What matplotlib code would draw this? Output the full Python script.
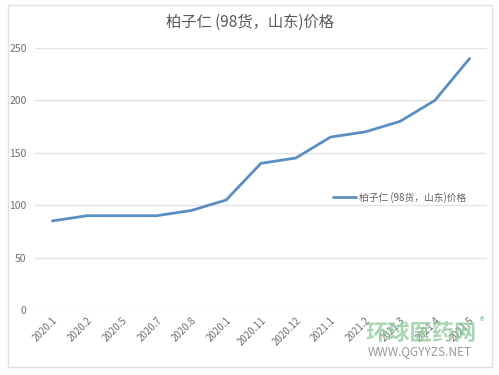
import matplotlib
matplotlib.use("Agg")
import matplotlib.pyplot as plt
from matplotlib.patches import Rectangle

plt.rcParams['font.family'] = ['Noto Sans CJK SC', 'DejaVu Sans']

categories = ["2020.1", "2020.2", "2020.5", "2020.7", "2020.8", "2020.1", "2020.11",
              "2020.12", "2021.1", "2021.2", "2021.3", "2021.4", "2021.5"]
prices = [85, 90, 90, 90, 95, 105, 140, 145, 165, 170, 180, 200, 240]
series_name = "柏子仁 (98货，山东)价格"
title = "柏子仁 (98货，山东)价格"
yticks = [0, 50, 100, 150, 200, 250]

fig = plt.figure(figsize=(4.99, 3.75), dpi=100)
fig.patch.set_facecolor('white')
fig.patches.append(Rectangle((8/499, 8/375), 484/499, 362/375, transform=fig.transFigure,
                             fill=False, edgecolor='#e0e0e0', linewidth=1.0))

ax = fig.add_axes([35/499, 1-310/375, 452/499, 262/375])
x = list(range(len(categories)))
ax.plot(x, prices, color='#5a8fc0', linewidth=2.0, label=series_name, solid_capstyle='round')
ax.set_xlim(-0.5, len(categories)-0.5)
ax.set_ylim(0, 250)
ax.set_yticks(yticks)
ax.set_xticks(x)
ax.set_xticklabels(categories, rotation=45, ha='right', rotation_mode='anchor', fontsize=7, color='#707070')
ax.tick_params(axis='y', labelsize=7.5, colors='#707070', length=0, pad=6)
ax.tick_params(axis='x', length=0, pad=4)
for s in ax.spines.values():
    s.set_visible(False)
ax.grid(axis='y', color='#e3e3e3', linewidth=1.0)
ax.set_axisbelow(True)

leg = ax.legend(loc='center left', bbox_to_anchor=(0.64, 0.43), frameon=False, fontsize=7,
                handlelength=2.4, handletextpad=0.3, labelcolor='#606060')

fig.text(0.5, 1-22/375, title, ha='center', va='center', fontsize=11, color='#595959')

# watermark
fig.text(365/499, 1-333/375, "环球医药网", fontsize=16, color='#8cc89a', alpha=0.75, va='center', ha='left', fontweight='bold')
fig.text(368/499, 1-352/375, "WWW.QGYYZS.NET", fontsize=8.5, color='#808080', alpha=0.8, va='center', ha='left')
fig.text(480/499, 1-322/375, "®", fontsize=7, color='#8cc89a', va='center', ha='left')

fig.savefig("out.png", dpi=100, facecolor='white')
